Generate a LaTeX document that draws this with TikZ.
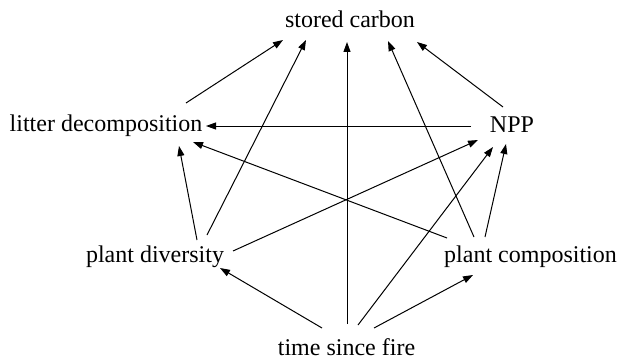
\documentclass[tikz,border=0pt]{standalone}
\usepackage{fontspec}
\setmainfont{Liberation Serif}
\usetikzlibrary{arrows.meta}

\begin{document}
\begin{tikzpicture}[x=1pt, y=-1pt,
    lbl/.style={inner sep=0pt, anchor=base, font=\fontsize{24}{28}\selectfont},
    arr/.style={line width=1pt, -{Triangle[length=10pt,width=7pt]}}]
    \useasboundingbox (0,0) rectangle (620,361);

    % variables
    \node[lbl] (sc)  at (350,28)    {stored carbon};
    \node[lbl] (ld)  at (106,131)   {litter decomposition};
    \node[lbl] (npp) at (512,132)   {NPP};
    \node[lbl] (pd)  at (155,262)   {plant diversity};
    \node[lbl] (pc)  at (530.5,262) {plant composition};
    \node[lbl] (tsf) at (346.5,355) {time since fire};

    % into stored carbon
    \draw[arr] ([shift={(80,-28)}]ld.base)    -- ([shift={(-67,12)}]sc.base);
    \draw[arr] ([shift={(52,-27)}]pd.base)    -- ([shift={(-44,12)}]sc.base);
    \draw[arr] ([shift={(0.5,-31)}]tsf.base)  -- ([shift={(-3,14)}]sc.base);
    \draw[arr] ([shift={(-56.5,-25)}]pc.base) -- ([shift={(38,13)}]sc.base);
    \draw[arr] ([shift={(-9,-25)}]npp.base)   -- ([shift={(67,14)}]sc.base);

    % into litter decomposition
    \draw[arr] ([shift={(-41,-6)}]npp.base)   -- ([shift={(100,-5)}]ld.base);
    \draw[arr] ([shift={(42,-22)}]pd.base)    -- ([shift={(73,15)}]ld.base);
    \draw[arr] ([shift={(-83.5,-24)}]pc.base) -- ([shift={(87,11)}]ld.base);

    % into NPP
    \draw[arr] ([shift={(78,-11)}]pd.base)    -- ([shift={(-34,8)}]npp.base);
    \draw[arr] ([shift={(11.5,-30)}]tsf.base) -- ([shift={(-19,15)}]npp.base);
    \draw[arr] ([shift={(-45.5,-25)}]pc.base) -- ([shift={(-6,12)}]npp.base);

    % into plant diversity / composition
    \draw[arr] ([shift={(-24.5,-27)}]tsf.base) -- ([shift={(65,6)}]pd.base);
    \draw[arr] ([shift={(27.5,-27)}]tsf.base)  -- ([shift={(-57.5,13)}]pc.base);
\end{tikzpicture}
\end{document}
